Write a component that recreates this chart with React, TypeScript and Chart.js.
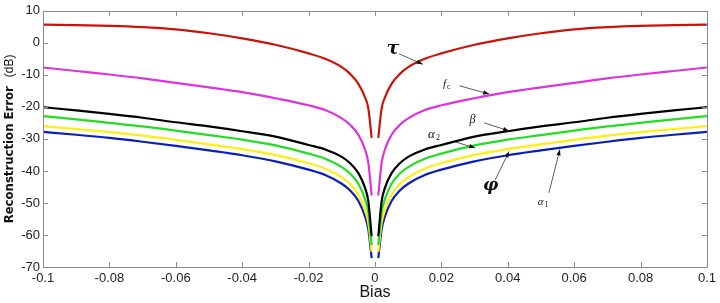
import React, { useEffect, useRef } from "react";
import { Chart, registerables } from "chart.js";

Chart.register(...registerables);

// Positive half of the bias axis (the curves are mirrored for negative bias)
const biasValues = [0.001, 0.002, 0.003, 0.005, 0.0075, 0.01, 0.015, 0.02, 0.03, 0.04, 0.05, 0.06, 0.07, 0.08, 0.09, 0.1];

const tauValues = [-29.7, -20.5, -17, -12.8, -9.7, -7.6, -5, -3.3, -0.6, 1.4, 3.0, 4.2, 4.9, 5.3, 5.5, 5.7];
const fcValues = [-47.7, -37.5, -33.3, -28.7, -25.6, -23.6, -21, -19.5, -17.3, -15.4, -13.9, -12.5, -11.1, -9.9, -8.8, -7.7];
const betaValues = [-60.4, -49.5, -45.3, -40.7, -37.6, -35.6, -33.3, -31.9, -29.3, -27.6, -26.1, -24.8, -23.4, -22.2, -21.1, -20.1];
const alpha2Values = [-63.2, -53, -48.8, -44, -40.8, -38.8, -36.2, -34.6, -32, -30.2, -28.8, -27.4, -26.1, -25, -23.9, -22.9];
const phiValues = [-65.3, -56.3, -52.2, -47.4, -44.1, -42, -39.3, -37.6, -35, -33.2, -31.7, -30.3, -29, -27.9, -26.9, -26];
const alpha1Values = [-67.2, -58.3, -54.2, -49.4, -46.1, -44, -41.3, -39.6, -37, -35.1, -33.6, -32.2, -30.9, -29.7, -28.7, -27.8];

const xTicks = [-0.1, -0.08, -0.06, -0.04, -0.02, 0, 0.02, 0.04, 0.06, 0.08, 0.1];
const xTickLabels = ["-0.1", "-0.08", "-0.06", "-0.04", "-0.02", "0", "0.02", "0.04", "0.06", "0.08", "0.1"];
const yTicks = [-70, -60, -50, -40, -30, -20, -10, 0, 10];

// annotations: label position and arrow (data coordinates)
const labels = [
  { text: "τ", sub: "", font: "italic bold 19px 'DejaVu Serif'", lx: 0.0035, ly: -1.8, ax: 0.0072, ay: -3.4, tx: 0.0144, ty: -6.7 },
  { text: "f", sub: "c", font: "italic 11px 'Liberation Serif'", lx: 0.0205, ly: -12.8, ax: 0.0254, ay: -13.4, tx: 0.0344, ty: -16.0 },
  { text: "β", sub: "", font: "italic 12px 'Liberation Serif'", lx: 0.0285, ly: -24.0, ax: 0.0329, ay: -25.0, tx: 0.0404, ty: -27.5 },
  { text: "α", sub: "2", font: "italic 13px 'Liberation Serif'", lx: 0.0160, ly: -28.8, ax: 0.0243, ay: -31.0, tx: 0.0302, ty: -32.8 },
  { text: "φ", sub: "", font: "italic bold 17px 'DejaVu Serif'", lx: 0.0325, ly: -44.6, ax: 0.0362, ay: -42.8, tx: 0.0404, ty: -33.9 },
  { text: "α", sub: "1", font: "italic 11px 'Liberation Serif'", lx: 0.0490, ly: -49.8, ax: 0.0524, ay: -46.8, tx: 0.0557, ty: -33.3 },
];

function mirrored(values: number[]) {
  const pts: { x: number; y: number | null }[] = [];
  for (let i = biasValues.length - 1; i >= 0; i--) pts.push({ x: -biasValues[i], y: values[i] });
  pts.push({ x: 0, y: null });
  for (let i = 0; i < biasValues.length; i++) pts.push({ x: biasValues[i], y: values[i] });
  return pts;
}

const framePlugin = {
  id: "matlabFrame",
  afterDatasetsDraw(chart: any) {
    const { ctx, chartArea: a, scales } = chart;
    const xs = scales.x;
    const ys = scales.y;
    ctx.save();
    ctx.strokeStyle = "#8a8a8a";
    ctx.lineWidth = 1;
    ctx.beginPath();
    ctx.rect(Math.round(a.left) + 0.5, Math.round(a.top) + 0.5, Math.round(a.right - a.left), Math.round(a.bottom - a.top));
    ctx.stroke();
    ctx.beginPath();
    const tl = 5;
    for (const v of xTicks) {
      const px = Math.round(xs.getPixelForValue(v)) + 0.5;
      ctx.moveTo(px, a.bottom);
      ctx.lineTo(px, a.bottom - tl);
      ctx.moveTo(px, a.top);
      ctx.lineTo(px, a.top + tl);
    }
    for (const v of yTicks) {
      const py = Math.round(ys.getPixelForValue(v)) + 0.5;
      ctx.moveTo(a.left, py);
      ctx.lineTo(a.left + tl, py);
      ctx.moveTo(a.right, py);
      ctx.lineTo(a.right - tl, py);
    }
    ctx.stroke();

    // annotations
    for (const l of labels) {
      const lx = xs.getPixelForValue(l.lx);
      const ly = ys.getPixelForValue(l.ly);
      ctx.fillStyle = "#111";
      ctx.font = l.font;
      ctx.textAlign = "left";
      ctx.textBaseline = "middle";
      ctx.fillText(l.text, lx, ly);
      if (l.sub) {
        const w = ctx.measureText(l.text).width;
        ctx.font = "8px 'Liberation Serif'";
        ctx.fillText(l.sub, lx + w + 1, ly + 3);
      }
      const x0 = xs.getPixelForValue(l.ax);
      const y0 = ys.getPixelForValue(l.ay);
      const x1 = xs.getPixelForValue(l.tx);
      const y1 = ys.getPixelForValue(l.ty);
      ctx.strokeStyle = "#333";
      ctx.lineWidth = 0.8;
      ctx.beginPath();
      ctx.moveTo(x0, y0);
      ctx.lineTo(x1, y1);
      ctx.stroke();
      const ang = Math.atan2(y1 - y0, x1 - x0);
      const hl = 6;
      const hw = 2.2;
      ctx.fillStyle = "#111";
      ctx.beginPath();
      ctx.moveTo(x1, y1);
      ctx.lineTo(x1 - hl * Math.cos(ang) + hw * Math.sin(ang), y1 - hl * Math.sin(ang) - hw * Math.cos(ang));
      ctx.lineTo(x1 - hl * Math.cos(ang) - hw * Math.sin(ang), y1 - hl * Math.sin(ang) + hw * Math.cos(ang));
      ctx.closePath();
      ctx.fill();
    }

    // y-axis title
    ctx.save();
    ctx.translate(10, (a.top + a.bottom) / 2);
    ctx.rotate(-Math.PI / 2);
    ctx.textBaseline = "middle";
    ctx.fillStyle = "#111";
    const t1 = "Reconstruction Error";
    const t2 = "(dB)";
    const f1 = "bold 13px 'Liberation Sans Narrow', 'DejaVu Sans Condensed'";
    const f2 = "12px 'Liberation Sans'";
    ctx.font = f1;
    const w1 = ctx.measureText(t1).width;
    ctx.font = f2;
    const w2 = ctx.measureText(t2).width;
    const gap = 9;
    const total = w1 + gap + w2;
    const start = -total / 2;
    ctx.textAlign = "left";
    ctx.font = f1;
    ctx.fillText(t1, start, 0);
    ctx.font = f2;
    ctx.fillText(t2, start + w1 + gap, 0);
    ctx.restore();
    ctx.restore();
  },
};

export default function App() {
  const ref = useRef<HTMLCanvasElement | null>(null);
  useEffect(() => {
    document.body.style.margin = "0";
    const canvas = ref.current;
    if (!canvas) return;
    const mk = (label: string, values: number[], color: string) => ({
      label,
      data: mirrored(values),
      borderColor: color,
      backgroundColor: color,
      borderWidth: 2.2,
      pointRadius: 0,
      cubicInterpolationMode: "monotone" as const,
      spanGaps: false,
    });
    const chart = new Chart(canvas, {
      type: "line",
      data: {
        datasets: [
          mk("τ", tauValues, "#c8140a"),
          mk("fc", fcValues, "#dd33dd"),
          mk("β", betaValues, "#000000"),
          mk("α2", alpha2Values, "#22dd22"),
          mk("φ", phiValues, "#ffee11"),
          mk("α1", alpha1Values, "#0a1fb8"),
        ],
      },
      options: {
        animation: false,
        responsive: false,
        maintainAspectRatio: false,
        layout: { padding: { top: 9, right: 9, left: 0, bottom: 0 } },
        plugins: { legend: { display: false }, tooltip: { enabled: false } },
        scales: {
          x: {
            type: "linear",
            min: -0.1,
            max: 0.1,
            grid: { display: false, drawTicks: false },
            border: { display: false },
            afterBuildTicks: (s: any) => {
              s.ticks = xTicks.map((v) => ({ value: v }));
            },
            afterFit: (s: any) => {
              s.height = 36;
            },
            ticks: {
              autoSkip: false,
              maxRotation: 0,
              padding: 4,
              color: "#222",
              font: { family: "'Liberation Sans', Arial", size: 13 },
              callback: (_v: any, i: number) => xTickLabels[i],
            },
            title: {
              display: true,
              text: "Bias",
              color: "#111",
              font: { family: "'Liberation Sans', Arial", size: 16 },
              padding: { top: 0, bottom: 1 },
            },
          },
          y: {
            type: "linear",
            min: -70,
            max: 10,
            grid: { display: false, drawTicks: false },
            border: { display: false },
            afterBuildTicks: (s: any) => {
              s.ticks = yTicks.map((v) => ({ value: v }));
            },
            afterFit: (s: any) => {
              s.width = 43;
            },
            ticks: {
              autoSkip: false,
              padding: 3,
              color: "#222",
              font: { family: "'Liberation Sans', Arial", size: 13 },
            },
          },
        },
      },
      plugins: [framePlugin],
    });
    return () => chart.destroy();
  }, []);
  return <canvas ref={ref} width={720} height={303} style={{ display: "block" }} />;
}
